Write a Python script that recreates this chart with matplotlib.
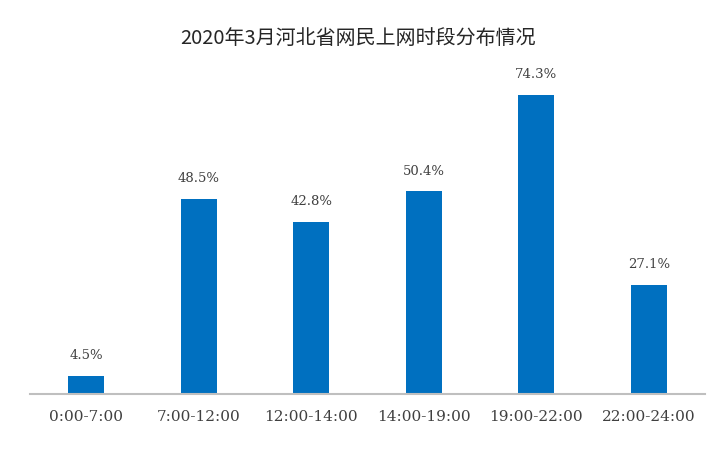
import matplotlib.pyplot as plt
import numpy as np

# Дані
categories = ['0:00-7:00', '7:00-12:00', '12:00-14:00', '14:00-19:00', '19:00-22:00', '22:00-24:00']
values = [4.5, 48.5, 42.8, 50.4, 74.3, 27.1]
title = '2020年3月河北省网民上网时段分布情况'

plt.rcParams['font.family'] = ['Noto Sans CJK SC', 'DejaVu Sans']

fig = plt.figure(figsize=(7.16, 4.56), dpi=100)
ax = fig.add_axes([30 / 716, 61 / 456, 675 / 716, 322 / 456])

x = np.arange(len(categories))
ax.bar(x, values, width=0.32, color='#0070C0')

for xi, v in zip(x, values):
    ax.text(xi, v + 3.6, f'{v:.1f}%', ha='center', va='bottom',
            fontsize=9.5, color='#404040', family='DejaVu Serif')

ax.set_xlim(-0.5, len(categories) - 0.5)
ax.set_ylim(0, 80)
ax.set_xticks(x)
ax.set_xticklabels(categories, family='DejaVu Serif', fontsize=11, color='#404040')
ax.tick_params(axis='x', length=0, pad=11)
ax.set_yticks([])

for s in ['top', 'right', 'left']:
    ax.spines[s].set_visible(False)
ax.spines['bottom'].set_color('#BFBFBF')
ax.spines['bottom'].set_linewidth(1.5)

fig.text(0.5, 1 - 38 / 456, title, ha='center', va='center', fontsize=14.4,
         color='#262626', weight='medium')

fig.savefig('out.png', dpi=100)
